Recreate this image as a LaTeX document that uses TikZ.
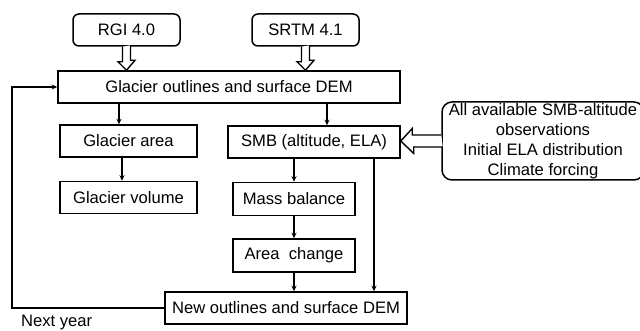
\documentclass[tikz,border=0pt]{standalone}
\usepackage{fontspec}
\setmainfont{Liberation Sans}
\usepackage{tikz}
\usetikzlibrary{arrows.meta, positioning, calc}
\tikzstyle{arrow} = [line width=1.4pt,-{Stealth[length=5.5pt,width=5pt]}]
\tikzstyle{hollow} = [line width=1.4pt, fill=white, line join=miter]
\tikzstyle{box} = [rectangle, minimum height=32pt, inner sep=0pt, text centered, draw=black, line width=1.5pt]
\tikzstyle{source} = [box, rounded corners=6pt, minimum width=107pt]

\begin{document}
\begin{tikzpicture}[x=1pt, y=-1pt, font=\fontsize{16.6}{20}\selectfont]
    \useasboundingbox (0,0) rectangle (640,331);
    % Inputs
    \node[source] (rgi) at (126.5,30) {RGI 4.0};
    \node[source] (srtm) at (305.5,30) {SRTM 4.1};
    \node[box, minimum width=342pt, minimum height=32pt] (outline) at (229,87) {Glacier outlines and surface DEM};

    % Left branch
    \node[box, minimum width=137pt] (area) at (128.5,141) {Glacier area};
    \node[box, minimum width=137pt, below=23pt of area] (volume) {Glacier volume};

    % Right branch
    \node[box, minimum width=172pt] (smb) at (314,142) {SMB (altitude, ELA)};
    \node[box, minimum width=122pt, minimum height=33pt, below=23pt of smb, xshift=-20pt] (mass) {Mass balance};
    \node[box, minimum width=122pt, minimum height=33pt, below=22pt of mass] (change) {Area\ \ change};
    \node[box, minimum width=242pt] (newdem) at (286,308) {New outlines and surface DEM};
    \node[box, rounded corners=10pt, minimum width=202pt, minimum height=78pt, align=center] (obs) at (543,141)
        {All available SMB-altitude\\observations\\Initial ELA distribution\\Climate forcing};
    \node[anchor=west, inner sep=0pt] (next) at (21,323) {Next year};

    % Hollow arrows
    \draw[hollow] ($(rgi.south)+(-4,0)$) -- ++(0,15) -- ++(-4.5,0) -- (rgi.south |- outline.north) -- ++(8.5,-10) -- ++(-4.5,0) -- ++(0,-15);
    \draw[hollow] ($(srtm.south)+(-4,0)$) -- ++(0,15) -- ++(-4.5,0) -- (srtm.south |- outline.north) -- ++(8.5,-10) -- ++(-4.5,0) -- ++(0,-15);
    \draw[hollow] ($(obs.west)+(0,-6)$) -- ++(-29,0) -- ++(0,-6.5) -- (smb.east |- obs.west) -- ++(13,12.5) -- ++(0,-6.5) -- ++(29,0);

    % Flow
    \coordinate (toarea) at ($(area.north)+(-9.5,0)$);
    \coordinate (tovolume) at ($(area.south)+(-6.5,0)$);
    \coordinate (tosmb) at ($(smb.north)+(13,0)$);
    \coordinate (drop) at ($(smb.south)+(60,0)$);
    \coordinate (back) at (12,0);
    \draw[arrow] (toarea |- outline.south) -- (toarea);
    \draw[arrow] (tovolume) -- (tovolume |- volume.north);
    \draw[arrow] (tosmb |- outline.south) -- (tosmb);
    \draw[arrow] (mass.north |- smb.south) -- (mass.north);
    \draw[arrow] (mass) -- (change);
    \draw[arrow] (change.south) -- (change.south |- newdem.north);
    \draw[arrow] (drop) -- (drop |- newdem.north);
    \draw[arrow] (newdem.west) -- (newdem.west -| back) |- (outline.west);
\end{tikzpicture}
\end{document}
